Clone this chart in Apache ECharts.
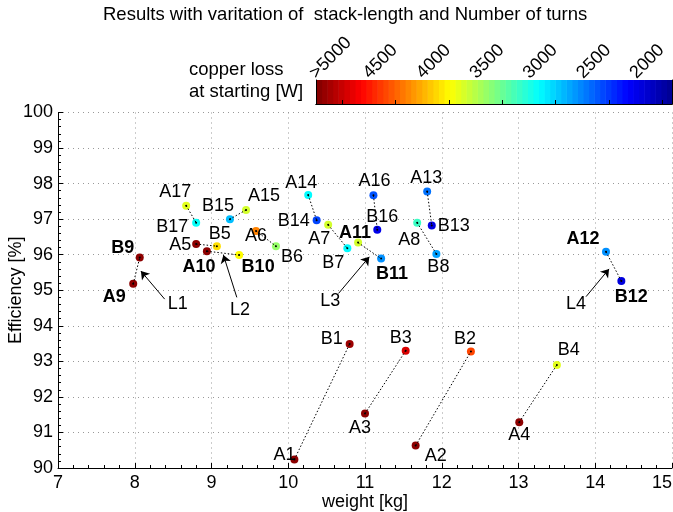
<!DOCTYPE html>
<html>
<head>
<meta charset="utf-8">
<script src="https://cdn.jsdelivr.net/npm/echarts@6/dist/echarts.min.js"></script>
<style>
  html, body { margin: 0; padding: 0; background: #fff; }
  #chart { width: 673px; height: 512px; }
</style>
</head>
<body>
<div id="chart"></div>
<script>
// Design points, A (first variant) and B (second variant) of each pair 1..17
var weightA = [10.08, 11.66, 11.00, 13.01, 8.80, 9.58, 10.52, 11.68, 7.98, 8.94, 10.91, 14.14, 11.81, 10.26, 9.45, 11.11, 8.67];
var effA    = [90.24, 90.63, 91.53, 91.29, 96.30, 96.67, 96.84, 96.90, 95.18, 96.10, 96.34, 96.08, 97.78, 97.68, 97.26, 97.67, 97.38];
var lossA   = [5200, 5200, 5200, 5200, 5200, 4400, 3850, 3350, 5200, 5200, 3850, 2800, 2700, 3150, 3850, 2600, 3900];

var weightB = [10.80, 12.38, 11.53, 13.50, 9.07, 9.84, 10.77, 11.93, 8.065, 9.36, 11.21, 14.34, 11.87, 10.37, 9.24, 11.16, 8.80];
var effB    = [93.49, 93.28, 93.30, 92.90, 96.24, 96.24, 96.18, 96.02, 95.92, 95.99, 95.89, 95.26, 96.82, 96.97, 97.00, 96.70, 96.90];
var lossB   = [5150, 4600, 4950, 3900, 4100, 3650, 3150, 2850, 5200, 4000, 2800, 2200, 2220, 2550, 2950, 2250, 3180];

// annotation arrows L1..L4
var arrowNames = ["L1", "L2", "L3", "L4"];
var arrowTail  = [[8.39, 94.75], [9.33, 94.80], [10.655, 94.91], [13.88, 94.82]];
var arrowHead  = [[8.08, 95.54], [9.155, 95.99], [11.056, 95.94], [14.18, 95.60]];
var arrowText  = [[8.56, 94.61], [9.37, 94.44], [10.546, 94.70], [13.75, 94.61]];

// colour bar
var lossMin = 1910, lossMax = 5245;
var cbTicks  = [5000, 4500, 4000, 3500, 3000, 2500, 2000];
var cbLabels = [">5000", "4500", "4000", "3500", "3000", "2500", "2000"];
var cbSteps = 64;

var boldNames = ["A9", "B9", "A10", "B10", "A11", "B11", "A12", "B12"];

// label offsets (text centre relative to marker centre), px
var labelOffset = {
    A1: [-10, -4], B1: [-18, -5], A2: [20, 10], B2: [-6, -12], A3: [-5, 14], B3: [-5, -13],
    A4: [0, 13], B4: [12, -15], A5: [-16, 1], B5: [3, -12], A6: [0, 5], B6: [16, 11],
    A7: [-9, 14], B7: [-14, 15], A8: [-8, 17], B8: [2, 13], A9: [-19, 13], B9: [-17, -10],
    A10: [-8, 16], B10: [19, 12], A11: [-3, -10], B11: [11, 15], A12: [-23, -13], B12: [10, 16],
    A13: [-1, -13], B13: [22, 0], A14: [-7, -12], B14: [-23, 1], A15: [18, -14], B15: [-12, -13],
    A16: [1, -14], B16: [5, -13], A17: [-11, -14], B17: [-24, 4]
};

var FONT = "Liberation Sans";
var jet = ["#00008F", "#0000FF", "#007FFF", "#00FFFF", "#7FFF7F", "#FFFF00", "#FF7F00", "#FF0000", "#7F0000"];

var points = [], pairLines = [];
function addPoint(name, x, y, loss) {
    points.push({
        name: name,
        value: [x, y, loss],
        label: {
            offset: labelOffset[name],
            fontWeight: boldNames.indexOf(name) >= 0 ? "bold" : "normal"
        }
    });
}
for (var i = 0; i < weightA.length; i++) {
    addPoint("A" + (i + 1), weightA[i], effA[i], lossA[i]);
    addPoint("B" + (i + 1), weightB[i], effB[i], lossB[i]);
    pairLines.push({ coords: [[weightA[i], effA[i]], [weightB[i], effB[i]]] });
}

var arrows = arrowNames.map(function (n, k) {
    return { coords: [arrowTail[k], arrowHead[k]] };
});
var arrowLabels = arrowNames.map(function (n, k) {
    return { name: n, value: arrowText[k] };
});

// colour bar steps: [from, to, mid]
var cbData = [];
var stepW = (lossMax - lossMin) / cbSteps;
for (var s = 0; s < cbSteps; s++) {
    var lo = lossMin + s * stepW;
    cbData.push([lo, lo + stepW, lo + stepW / 2]);
}

var chart = echarts.init(document.getElementById("chart"), null, { renderer: "canvas" });

var plainLabel = {
    show: true,
    position: "inside",
    formatter: "{b}",
    fontFamily: FONT,
    fontSize: 18,
    color: "#000",
    textBorderWidth: 0,
    textBorderColor: "transparent",
    textShadowBlur: 0
};

var option = {
    animation: false,
    backgroundColor: "#fff",
    textStyle: { fontFamily: FONT, color: "#000" },
    title: [{
        text: "Results with varitation of  stack-length and Number of turns",
        left: 103, top: 5, padding: 0,
        textStyle: { fontFamily: FONT, fontSize: 18.5, fontWeight: "normal", color: "#000" }
    }, {
        text: "copper loss\nat starting [W]",
        left: 189, top: 59, padding: 0,
        textStyle: { fontFamily: FONT, fontSize: 18.5, fontWeight: "normal", color: "#000", lineHeight: 22 }
    }],
    visualMap: {
        type: "continuous",
        show: false,
        min: lossMin,
        max: lossMax,
        dimension: 2,
        seriesIndex: [2, 5],
        inRange: { color: jet }
    },
    grid: [
        { left: 58, right: 1, top: 112.5, bottom: 44, outerBoundsMode: "none", containLabel: false },
        { left: 316, right: 1, top: 80, height: 24, outerBoundsMode: "none", containLabel: false }
    ],
    xAxis: [{
        type: "value", gridIndex: 0, min: 7, max: 15, interval: 1,
        name: "weight [kg]", nameLocation: "middle", nameGap: 25, nameMoveOverlap: false,
        nameTextStyle: { fontFamily: FONT, fontSize: 18, color: "#000" },
        axisLine: { lineStyle: { color: "#000", width: 1 } },
        axisTick: { inside: true, length: 5, lineStyle: { color: "#000" } },
        minorTick: { show: true, splitNumber: 5, length: 3, lineStyle: { color: "#000" } },
        axisLabel: { fontFamily: FONT, fontSize: 18, color: "#000", margin: 6, alignMaxLabel: "right" },
        splitLine: { show: true, lineStyle: { color: "#999", type: [1, 4], width: 1 } }
    }, {
        type: "value", gridIndex: 1, position: "top", min: lossMin, max: lossMax, inverse: true, z: 5,
        axisLine: { lineStyle: { color: "#000", width: 1 } },
        axisTick: { show: false },
        axisLabel: {
            fontFamily: FONT, fontSize: 18, color: "#000", rotate: 45,
            align: "left", verticalAlign: "bottom", margin: -25, padding: [0, 0, 32.5, 0],
            customValues: cbTicks,
            formatter: function (v) { return cbLabels[cbTicks.indexOf(v)]; }
        },
        splitLine: { show: false }
    }, {
        type: "value", gridIndex: 1, position: "bottom", min: lossMin, max: lossMax, inverse: true, z: 5,
        axisLine: { lineStyle: { color: "#000", width: 1 } },
        axisTick: { inside: true, length: 4, customValues: cbTicks, lineStyle: { color: "#000" } },
        axisLabel: { show: false },
        splitLine: { show: false }
    }],
    yAxis: [{
        type: "value", gridIndex: 0, min: 90, max: 100, interval: 1,
        name: "Efficiency [%]", nameLocation: "middle", nameGap: 33, nameMoveOverlap: false,
        nameTextStyle: { fontFamily: FONT, fontSize: 18, color: "#000" },
        axisLine: { show: true, lineStyle: { color: "#000", width: 1 } },
        axisTick: { show: true, inside: true, length: 5, lineStyle: { color: "#000" } },
        minorTick: { show: true, splitNumber: 5, length: 3, lineStyle: { color: "#000" } },
        axisLabel: { fontFamily: FONT, fontSize: 18, color: "#000", margin: 5 },
        splitLine: { show: true, lineStyle: { color: "#999", type: [1, 4], width: 1 } }
    }, {
        type: "value", gridIndex: 1, position: "left", min: 0, max: 1, z: 5,
        axisLine: { show: true, lineStyle: { color: "#000", width: 1 } },
        axisTick: { show: false }, axisLabel: { show: false }, splitLine: { show: false }
    }, {
        type: "value", gridIndex: 1, position: "right", min: 0, max: 1, z: 5,
        axisLine: { show: true, lineStyle: { color: "#000", width: 1 } },
        axisTick: { show: false }, axisLabel: { show: false }, splitLine: { show: false }
    }],
    series: [{
        // dotted A-B connections
        type: "lines",
        coordinateSystem: "cartesian2d",
        xAxisIndex: 0, yAxisIndex: 0,
        z: 4,
        symbol: "none",
        lineStyle: { color: "#000", width: 1, type: [1.5, 2], opacity: 1 },
        data: pairLines
    }, {
        // arrows
        type: "lines",
        coordinateSystem: "cartesian2d",
        xAxisIndex: 0, yAxisIndex: 0,
        z: 4,
        symbol: ["none", "arrow"],
        symbolSize: 8,
        lineStyle: { color: "#000", width: 1, opacity: 1 },
        data: arrows
    }, {
        type: "scatter",
        xAxisIndex: 0, yAxisIndex: 0,
        z: 3,
        symbolSize: 8,
        itemStyle: { opacity: 1 },
        data: points,
        label: plainLabel
    }, {
        // centre dots
        type: "scatter",
        xAxisIndex: 0, yAxisIndex: 0,
        z: 5,
        symbolSize: 2,
        itemStyle: { color: "#000", opacity: 1 },
        data: points.map(function (p) { return p.value.slice(0, 2); })
    }, {
        type: "scatter",
        xAxisIndex: 0, yAxisIndex: 0,
        symbolSize: 1,
        itemStyle: { color: "transparent", opacity: 1 },
        data: arrowLabels,
        label: plainLabel
    }, {
        // colour bar
        type: "custom",
        xAxisIndex: 1, yAxisIndex: 1,
        z: 1,
        encode: { x: [0, 1], y: -1 },
        data: cbData,
        renderItem: function (params, api) {
            var p0 = api.coord([api.value(0), 1]);
            var p1 = api.coord([api.value(1), 0]);
            return {
                type: "rect",
                shape: {
                    x: Math.min(p0[0], p1[0]),
                    y: p0[1],
                    width: Math.abs(p1[0] - p0[0]) + 0.6,
                    height: p1[1] - p0[1]
                },
                style: { fill: api.visual("color") }
            };
        }
    }]
};

chart.setOption(option);
</script>
</body>
</html>
